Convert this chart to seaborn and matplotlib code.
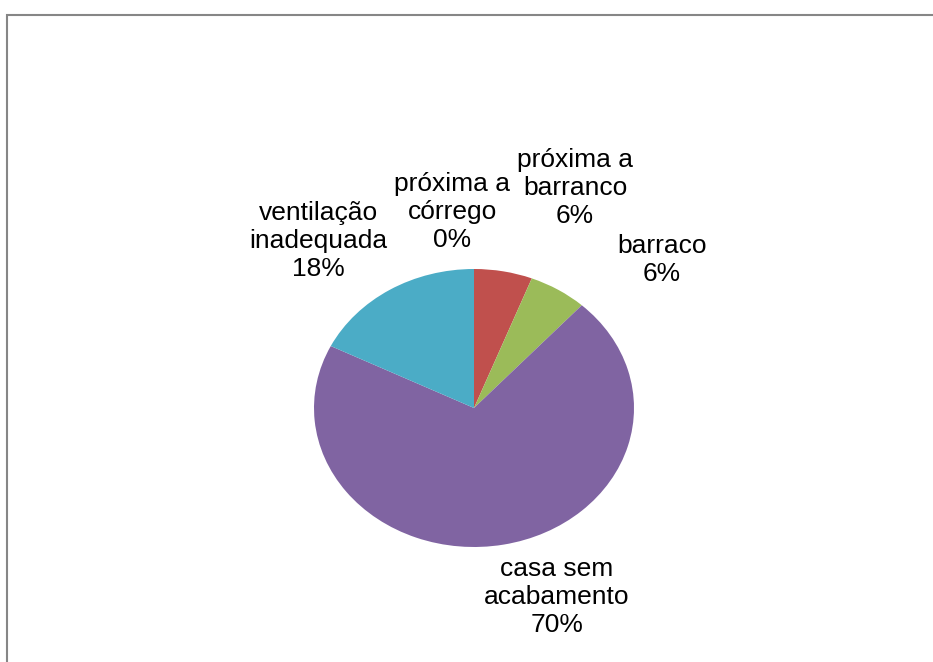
import matplotlib
matplotlib.use("Agg")
import matplotlib.pyplot as plt
import seaborn as sns
from matplotlib.patches import Rectangle

categories = ["próxima a\ncórrego", "próxima a\nbarranco", "barraco",
              "casa sem\nacabamento", "ventilação\ninadequada"]
counts = [0, 1, 1, 12, 3]
pct_labels = ["0%", "6%", "6%", "70%", "18%"]
hex_colors = ["#4F81BD", "#C0504D", "#9BBB59", "#8064A2", "#4BACC6"]

sns.set_style("white")
plt.rcParams['font.family'] = ['Liberation Sans', 'DejaVu Sans']
palette = sns.color_palette(hex_colors)

W, H = 933, 662
fig = plt.figure(figsize=(W / 100, H / 100), dpi=100)
ax = fig.add_axes([0, 0, 1, 1])

cx, cy = 474, 408          # pie centre in pixels (from top)
rx, ry = 160, 139          # pie radii in pixels

ax.pie(counts, colors=palette, startangle=90, counterclock=False,
       radius=1, center=(0, 0), frame=True,
       wedgeprops=dict(linewidth=0))
ax.set_xlim(-cx / rx, (W - cx) / rx)
ax.set_ylim(-(H - cy) / ry, cy / ry)
ax.set_aspect('auto')
ax.axis('off')

# label centres in pixel coords
label_pos = [(452, 212), (575, 188), (662, 260), (557, 597), (318, 241)]
for cat, pct, (px, py) in zip(categories, pct_labels, label_pos):
    x = (px - cx) / rx
    y = (cy - py) / ry
    ax.text(x, y, f"{cat}\n{pct}", ha='center', va='center',
            fontsize=19, linespacing=1.2, color='black')

fig.patches.append(Rectangle((7 / W, -0.1), 1.2, (H - 15) / H + 0.1,
                             transform=fig.transFigure, fill=False,
                             edgecolor='#868686', linewidth=1.5))

fig.savefig("out.png", dpi=100)
